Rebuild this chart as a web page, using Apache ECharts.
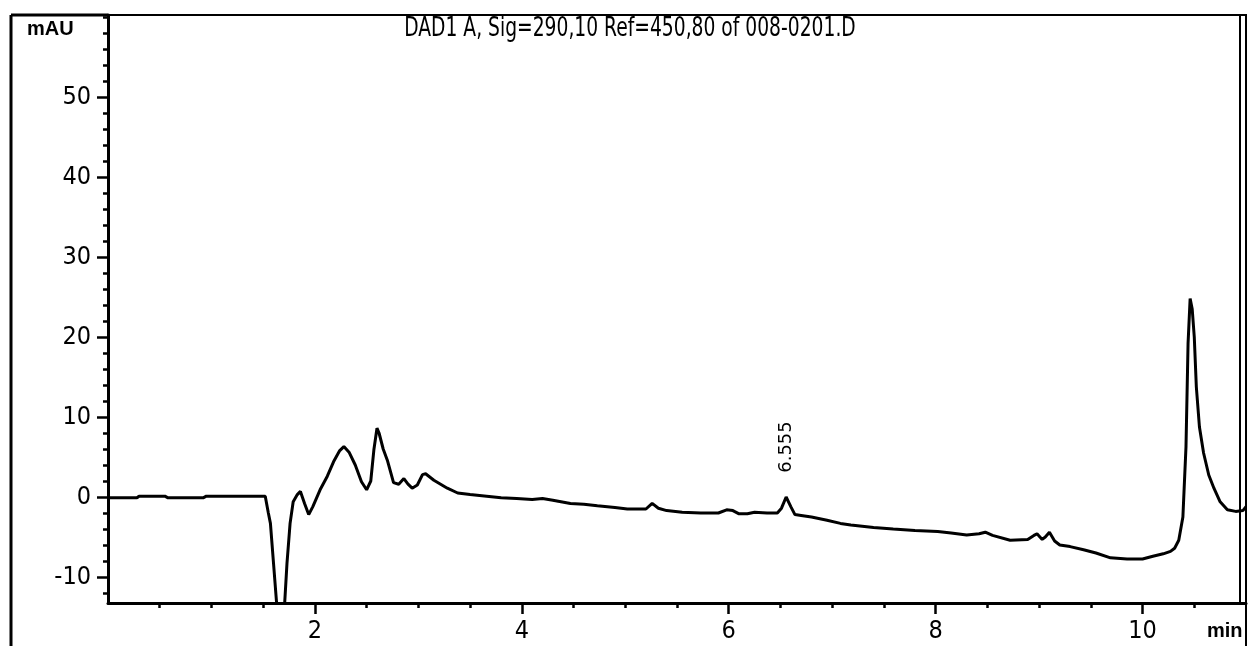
<!DOCTYPE html>
<html>
<head>
<meta charset="utf-8">
<script src="https://cdn.jsdelivr.net/npm/echarts@6/dist/echarts.min.js"></script>
<style>html,body{margin:0;padding:0;background:#fff}#c{width:1250px;height:646px}</style>
</head>
<body>
<div id="c"></div>
<script>
const titleText = 'DAD1 A, Sig=290,10 Ref=450,80 of 008-0201.D';
const yAxisName = 'mAU';
const xAxisName = 'min';

const timeMin = [
  0.00, 0.28, 0.30, 0.55, 0.58, 0.92, 0.95, 1.52, 1.55, 1.57, 1.60, 1.64, 1.67, 1.70, 1.73, 1.76, 1.79, 1.83, 1.86, 1.90,
  1.94, 1.98, 2.05, 2.12, 2.18, 2.24, 2.28, 2.33, 2.39, 2.45, 2.50, 2.54, 2.57, 2.60, 2.62, 2.66, 2.70, 2.76, 2.81, 2.86,
  2.90, 2.94, 2.99, 3.04, 3.07, 3.15, 3.28, 3.38, 3.50, 3.66, 3.80, 3.95, 4.10, 4.20, 4.30, 4.47, 4.60, 4.73, 4.90, 5.02,
  5.20, 5.26, 5.32, 5.40, 5.55, 5.73, 5.90, 5.98, 6.04, 6.10, 6.18, 6.25, 6.37, 6.47, 6.51, 6.555, 6.60, 6.64, 6.70, 6.80,
  6.95, 7.08, 7.18, 7.40, 7.59, 7.80, 8.02, 8.15, 8.30, 8.42, 8.48, 8.55, 8.72, 8.89, 8.95, 8.98, 9.03, 9.06, 9.10, 9.15,
  9.20, 9.30, 9.43, 9.55, 9.69, 9.85, 10.00, 10.10, 10.20, 10.27, 10.31, 10.35, 10.39, 10.42, 10.44, 10.46, 10.48, 10.50, 10.52, 10.55,
  10.59, 10.64, 10.69, 10.75, 10.82, 10.90, 10.97, 11.00
];
const signalMAU = [
  -0.1, -0.1, 0.1, 0.1, -0.1, -0.1, 0.1, 0.1, -2.0, -3.3, -8.3, -15.0, -17.0, -15.0, -8.3, -3.3, -0.6, 0.3, 0.7, -0.8,
  -2.2, -1.2, 0.9, 2.6, 4.4, 5.8, 6.3, 5.6, 4.0, 1.9, 0.9, 2.0, 5.9, 8.6, 8.0, 6.0, 4.6, 1.8, 1.6, 2.3,
  1.6, 1.1, 1.5, 2.8, 2.9, 2.1, 1.1, 0.5, 0.3, 0.1, -0.1, -0.2, -0.3, -0.2, -0.4, -0.8, -0.9, -1.1, -1.3, -1.5,
  -1.5, -0.8, -1.4, -1.7, -1.9, -2.0, -2.0, -1.6, -1.7, -2.1, -2.1, -1.9, -2.0, -2.0, -1.4, 0.0, -1.2, -2.2, -2.3, -2.5,
  -2.9, -3.3, -3.5, -3.8, -4.0, -4.2, -4.3, -4.5, -4.75, -4.6, -4.4, -4.8, -5.4, -5.3, -4.8, -4.6, -5.3, -5.0, -4.4, -5.5,
  -6.0, -6.2, -6.6, -7.0, -7.6, -7.75, -7.75, -7.4, -7.1, -6.8, -6.4, -5.4, -2.5, 6.3, 19.2, 24.8, 23.5, 20.0, 13.75, 8.75,
  5.5, 2.75, 1.1, -0.6, -1.6, -1.8, -1.7, -1.2
];

const peakTimes = [6.555];
const peakValues = [0.0];
const peakLabels = ['6.555'];

const xTickLabels = [2, 4, 6, 8, 10];
const xMinorTicks = [0.5, 1, 1.5, 2, 2.5, 3, 3.5, 4, 4.5, 5, 5.5, 6, 6.5, 7, 7.5, 8, 8.5, 9, 9.5, 10, 10.5];
const yTickLabels = [-10, 0, 10, 20, 30, 40, 50];
const yMinorTicks = [-12, -10, -8, -6, -4, -2, 0, 2, 4, 6, 8, 10, 12, 14, 16, 18, 20, 22, 24, 26, 28, 30, 32, 34, 36, 38, 40, 42, 44, 46, 48, 50, 52, 54, 56, 58, 60];

const NARROW = '"Liberation Sans Narrow", "DejaVu Sans Condensed", "Liberation Sans", sans-serif';
const INK = '#000';

const chart = echarts.init(document.getElementById('c'), null, {renderer: 'canvas'});

const seriesData = timeMin.map((t, i) => [t, signalMAU[i]]);

const option = {
  animation: false,
  backgroundColor: '#fff',
  grid: {left: 108, right: 4, top: 15, bottom: 43, show: true, borderColor: INK, borderWidth: 2, backgroundColor: 'transparent'},
  xAxis: [
    {
      type: 'value', min: 0, max: 11, position: 'bottom',
      axisLine: {show: true, onZero: false, lineStyle: {color: INK, width: 3}},
      axisTick: {show: true, customValues: xTickLabels, length: 11, lineStyle: {color: INK, width: 2.5}},
      axisLabel: {show: true, customValues: xTickLabels, margin: 16, fontFamily: NARROW, fontSize: 25, color: INK},
      splitLine: {show: false}
    },
    {
      type: 'value', min: 0, max: 11, position: 'bottom',
      axisLine: {show: false, onZero: false},
      axisTick: {show: true, customValues: xMinorTicks, length: 5, lineStyle: {color: INK, width: 2.5}},
      axisLabel: {show: false},
      splitLine: {show: false}
    }
  ],
  yAxis: [
    {
      type: 'value', min: -13.25, max: 60.25, position: 'left',
      axisLine: {show: true, onZero: false, lineStyle: {color: INK, width: 3}},
      axisTick: {show: true, customValues: yTickLabels, length: 11, lineStyle: {color: INK, width: 2.5}},
      axisLabel: {show: true, customValues: yTickLabels, margin: 17, fontFamily: NARROW, fontSize: 25, color: INK},
      splitLine: {show: false}
    },
    {
      type: 'value', min: -13.25, max: 60.25, position: 'left',
      axisLine: {show: false, onZero: false},
      axisTick: {show: true, customValues: yMinorTicks, length: 5, lineStyle: {color: INK, width: 2.5}},
      axisLabel: {show: false},
      splitLine: {show: false}
    }
  ],
  series: [{
    type: 'line',
    xAxisIndex: 0,
    yAxisIndex: 0,
    data: seriesData,
    showSymbol: false,
    symbol: 'none',
    smooth: false,
    clip: true,
    lineStyle: {color: INK, width: 3},
    markPoint: {
      symbol: 'circle',
      symbolSize: 0,
      data: peakTimes.map((t, i) => ({coord: [t, peakValues[i]], value: peakLabels[i]})),
      label: {
        show: true,
        position: 'inside',
        formatter: p => p.value,
        rotate: 90,
        offset: [50, 0],
        fontFamily: '"DejaVu Sans", sans-serif',
        fontSize: 18,
        color: INK
      }
    }
  }],
  graphic: [
    {type: 'text', x: 630, y: 16, scaleX: 0.8, style: {text: titleText, font: '26px ' + NARROW, fill: INK, textAlign: 'center', textVerticalAlign: 'top'}},
    {type: 'text', left: 27, top: 19, style: {text: yAxisName, font: 'bold 20px "Liberation Sans", sans-serif', fill: INK}},
    {type: 'text', left: 1207, top: 621, style: {text: xAxisName, font: 'bold 20px "Liberation Sans", sans-serif', fill: INK}},
    {type: 'line', shape: {x1: 11, y1: 15, x2: 11, y2: 646}, style: {stroke: INK, lineWidth: 3}},
    {type: 'line', shape: {x1: 11, y1: 15, x2: 108, y2: 15}, style: {stroke: INK, lineWidth: 3}},
    {type: 'line', shape: {x1: 1240, y1: 15, x2: 1240, y2: 603}, style: {stroke: INK, lineWidth: 2}},
    {type: 'line', shape: {x1: 1246, y1: 15, x2: 1246, y2: 646}, style: {stroke: INK, lineWidth: 2}}
  ]
};
chart.setOption(option);
</script>
</body>
</html>
